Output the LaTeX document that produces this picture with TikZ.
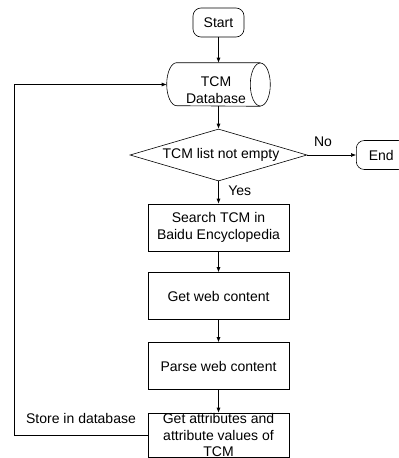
\documentclass[tikz,border=0pt]{standalone}
\usepackage{fontspec}
\setmainfont{Liberation Sans}
\usetikzlibrary{shapes.geometric,arrows.meta}
\begin{document}
\begin{tikzpicture}[x=1pt,y=1pt, font=\fontsize{14}{16.5}\selectfont, line width=0.6pt,
  proc/.style={draw, rectangle, minimum width=141pt, minimum height=47pt, inner sep=0pt, align=center},
  term/.style={draw, rounded corners=8pt, minimum height=29pt, inner sep=0pt},
  arr/.style={-{Latex[length=5pt,width=4pt]}},
  lbl/.style={inner sep=0pt}]
\useasboundingbox (0,0) rectangle (399,-458);
\node[term, minimum width=51pt] (start) at (218.5,-22.5) {Start};
\node[rectangle, minimum width=103pt, minimum height=43pt, inner sep=0pt] (db) at (218.5,-84.5) {};
\draw ([xshift=-10pt]db.north east) -- ([xshift=10pt]db.north west)
  arc[start angle=90, end angle=270, x radius=10pt, y radius=21.5pt]
  -- ([xshift=-10pt]db.south east);
\draw ([xshift=-10pt]db.east) ellipse [x radius=10pt, y radius=21.5pt];
\node[lbl, align=center] (dbtext) at (216,-90) {TCM\\Database};
\node[draw, diamond, aspect=3.4, minimum width=177pt, minimum height=52pt, inner sep=0pt] (dec) at (218.5,-155) {};
\node[lbl] (dectext) at (221,-155) {TCM list not empty};
\node[term, minimum width=50pt, anchor=west] (end) at (356,-155) {End};
\node[proc] (search) at (218.5,-227.5) {Search TCM in\\Baidu Encyclopedia};
\node[proc] (web) at (218.5,-296) {Get web content};
\node[proc] (parse) at (218.5,-366) {Parse web content};
\node[proc, minimum height=44pt] (attr) at (218.5,-435) {Get attributes and\\attribute values of\\TCM};
\node[lbl] (no) at (323,-142) {No};
\node[lbl, anchor=west] (yes) at (228,-191) {Yes};
\node[lbl] (store) at (81,-418) {Store in database};
\coordinate (fb) at (14,-435);
\draw[arr] (start.south) -- (start.south |- db.north);
\draw[arr] (db.south) -- (db.south |- dec.north);
\draw[arr] (dec.east) -- (end.west);
\draw[arr] (dec.south) -- (search.north);
\draw[arr] (search) -- (web);
\draw[arr] (web) -- (parse);
\draw[arr] (parse) -- (attr);
\draw[arr] (attr.west) -- (fb) |- (db.west);
\end{tikzpicture}
\end{document}
